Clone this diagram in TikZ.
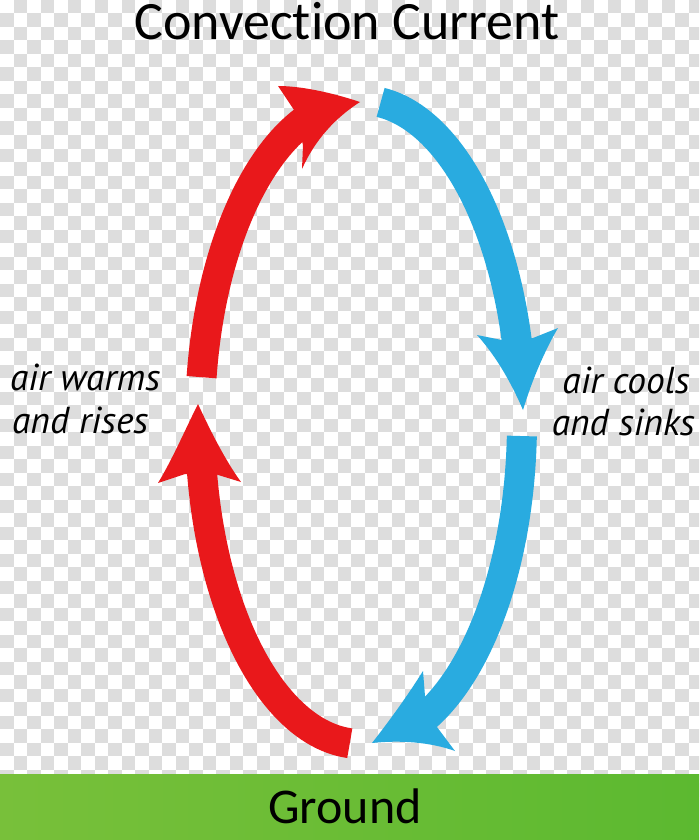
\documentclass[tikz,border=0pt]{standalone}
\usepackage{fontspec}
\setmainfont{Carlito}[Ligatures=NoCommon]
\newfontfamily\labelfont{PT Sans}
\definecolor{redc}{RGB}{233,24,27}
\definecolor{bluec}{RGB}{41,171,224}
\definecolor{checkgray}{RGB}{221,221,221}
\definecolor{groundL}{RGB}{120,192,58}
\definecolor{groundM}{RGB}{168,206,30}
\definecolor{groundR}{RGB}{92,185,48}
\begin{document}
\begin{tikzpicture}[x=1pt,y=-1pt,
  shaft/.style={line width=30pt},
  titletext/.style={font=\fontsize{54}{58}\selectfont, inner sep=0pt, text height=35pt},
  groundtext/.style={font=\fontsize{50}{55}\selectfont, inner sep=0pt},
  sidetext/.style={font=\labelfont\itshape\fontsize{37.5}{40}\selectfont, inner sep=0pt}]
\useasboundingbox (0,0) rectangle (699,840);
% transparent-looking checkerboard background
\begin{scope}
\clip (0,0) rectangle (699,840);
\fill[white] (0,0) rectangle (699,840);
\foreach \i in {0,...,51}{
  \pgfmathtruncatemacro\o{1-mod(\i,2)}
  \foreach \j in {0,...,31}{
    \fill[checkgray] ({\i*13.5},{(2*\j+\o)*13.5}) rectangle +(13.5,13.5);
  }
}
\end{scope}
% ground
\shade[left color=groundL, middle color=groundM, right color=groundR] (0,774) rectangle (699,840);
\node[groundtext, anchor=base] (ground) at (345,823) {Ground};
% title
\node[titletext, anchor=base] (title) at (347,40) {Convection Current};
% red upper arrow
\draw[redc, shaft] plot[domain=172:108, samples=50] ({361+161*cos(\x)},{422-322*sin(\x)});
\fill[redc] (360,102) .. controls (330,92) and (300,86) .. (278,86) -- (294,110) -- (303,145) -- (302,169) .. controls (315,140) and (335,118) .. cycle;
% red lower arrow
\draw[redc, shaft] plot[domain=266:186, samples=50] ({361+161*cos(\x)},{422-322*sin(\x)});
\fill[redc] (198,404) .. controls (185,430) and (172,460) .. (158,483) -- (185,474) -- (215,474) -- (241,482) .. controls (225,460) and (210,430) .. cycle;
% blue upper arrow
\draw[bluec, shaft] plot[domain=83:10, samples=50] ({361+161*cos(\x)},{422-322*sin(\x)});
\fill[bluec] (523,410) .. controls (510,380) and (495,355) .. (477,335) -- (502,340) -- (533,338) -- (558,328) .. controls (545,350) and (532,380) .. cycle;
% blue lower arrow
\draw[bluec, shaft] plot[domain=-2.5:-70, samples=50] ({361+161*cos(\x)},{422-322*sin(\x)});
\fill[bluec] (372,743) .. controls (390,720) and (408,695) .. (423,671) -- (425,696) -- (437,727) -- (455,751) .. controls (430,742) and (400,740) .. cycle;
% labels
\node[sidetext, anchor=base west] (warm1) at (10,390) {air warms};
\node[sidetext, anchor=base west] (warm2) at (12,433) {and rises};
\node[sidetext, anchor=base east] (cool1) at (690,393) {air cools};
\node[sidetext, anchor=base east] (cool2) at (695,435) {and sinks};
\end{tikzpicture}
\end{document}
